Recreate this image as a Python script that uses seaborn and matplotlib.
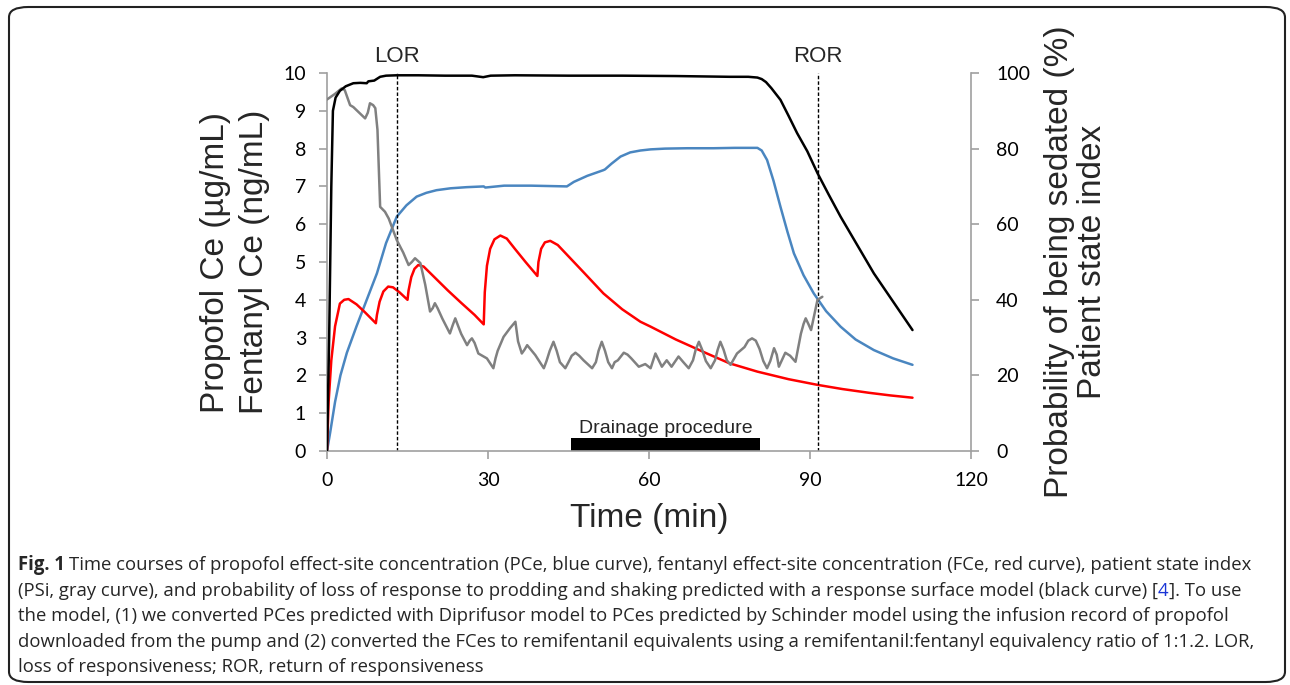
import matplotlib
matplotlib.use("Agg")
import matplotlib.pyplot as plt
import seaborn as sns
from matplotlib.patches import FancyBboxPatch

# Data (time in min)
propofol_t = [0, 0.6, 1.5, 2.5, 3.7, 5.5, 7.4, 9.3, 11.0, 13.0, 14.8, 16.7, 18.5, 20.4, 23.0, 26.0,
              29.2, 29.5, 33.0, 38.0, 44.7, 46.0, 48.5, 51.5, 51.8, 53.0, 54.7, 56.5, 58.4, 60.3,
              63.0, 67.1, 72.0, 76.0, 80.2, 81.0, 82.0, 83.2, 84.5, 85.8, 87.0, 88.8, 90.7, 93.0,
              95.7, 98.5, 101.9, 105.5, 109.1]
propofol_ce = [0, 0.5, 1.3, 2.0, 2.6, 3.3, 4.0, 4.7, 5.5, 6.2, 6.5, 6.73, 6.83, 6.9, 6.95, 6.98,
               7.0, 6.97, 7.02, 7.02, 7.0, 7.12, 7.28, 7.43, 7.45, 7.6, 7.79, 7.9, 7.95, 7.98,
               8.0, 8.01, 8.01, 8.02, 8.02, 7.95, 7.7, 7.15, 6.46, 5.8, 5.23, 4.65, 4.17, 3.7,
               3.29, 2.95, 2.67, 2.45, 2.28]

fentanyl_t = [0, 0.3, 0.8, 1.5, 2.4, 3.2, 4.0, 5.5, 7.0, 9.1, 9.3, 9.8, 10.5, 11.4, 12.3, 13.5,
              15.0, 15.2, 15.7, 16.3, 17.0, 18.0, 20.0, 22.5, 25.0, 27.5, 29.2, 29.4, 29.8, 30.4,
              31.2, 32.3, 33.5, 35.0, 37.0, 39.2, 39.4, 39.9, 40.6, 41.6, 43.0, 45.0, 48.0, 51.5,
              55.0, 58.4, 60.3, 65.0, 70.8, 75.0, 80.2, 86.0, 91.4, 96.0, 101.0, 105.0, 109.1]
fentanyl_ce = [0, 1.3, 2.4, 3.3, 3.9, 4.0, 4.02, 3.88, 3.68, 3.38, 3.6, 3.95, 4.22, 4.35, 4.33, 4.2,
               4.0, 4.25, 4.6, 4.82, 4.92, 4.88, 4.6, 4.25, 3.92, 3.6, 3.35, 4.2, 4.9, 5.35,
               5.6, 5.7, 5.62, 5.35, 5.0, 4.63, 5.0, 5.35, 5.52, 5.56, 5.45, 5.15, 4.7, 4.17,
               3.75, 3.42, 3.29, 2.95, 2.58, 2.32, 2.1, 1.9, 1.75, 1.64, 1.54, 1.47, 1.41]

psi_t = [0, 1.5, 2.7, 3.3, 4.3, 4.9, 6.0, 7.1, 7.6, 8.0, 8.6, 9.0, 9.4, 9.9, 10.8, 11.5, 13.0,
         14.2, 15.2, 15.8, 16.4, 17.4, 18.3, 19.2, 19.7, 20.1, 20.6, 21.5, 22.9, 23.4, 23.9, 24.4,
         25.0, 26.1, 26.6, 27.0, 27.5, 28.2, 29.8, 31.0, 31.4, 31.8, 32.9, 34.1, 35.1, 35.6, 36.3,
         36.8, 37.3, 38.8, 40.4, 40.9, 41.5, 42.2, 42.8, 43.4, 44.4, 45.0, 45.6, 46.3, 47.0, 47.8,
         49.4, 50.1, 50.6, 51.2, 51.8, 52.4, 53.1, 53.6, 54.2, 55.3, 56.0, 56.7, 58.1, 59.3, 60.3,
         61.2, 62.4, 63.3, 64.2, 65.5, 66.4, 67.4, 68.2, 68.7, 69.3, 69.9, 70.6, 71.5, 72.3, 72.8,
         73.3, 73.9, 74.5, 75.2, 76.4, 77.8, 78.5, 79.2, 79.9, 80.6, 81.3, 82.0, 82.6, 83.3, 83.8,
         84.2, 85.4, 86.3, 87.3, 88.3, 88.8, 89.2, 89.7, 90.2, 90.8, 91.4, 92.3]
psi_index = [93, 94.5, 95.9, 95.5, 91.5, 91.0, 89.5, 88.0, 89.5, 92.0, 91.5, 90.7, 85.0, 64.6, 63.3,
             61.5, 55.8, 52.5, 49.2, 50.0, 51.0, 49.7, 44.0, 36.9, 37.8, 39.1, 37.8, 35.0, 31.1,
             33.2, 35.1, 33.2, 31.0, 28.0, 29.2, 29.8, 28.6, 25.8, 24.5, 21.9, 24.5, 26.5, 30.2,
             32.5, 34.2, 29.0, 25.8, 26.8, 28.0, 25.4, 21.9, 23.8, 26.5, 28.9, 26.5, 23.5, 21.9,
             23.5, 25.2, 26.0, 25.2, 24.0, 21.9, 23.5, 26.5, 28.9, 26.5, 23.5, 21.9, 23.5, 24.0,
             26.0, 25.5, 24.5, 22.3, 23.0, 21.9, 25.8, 22.3, 24.0, 22.3, 25.0, 23.5, 21.9, 24.0,
             26.8, 28.9, 26.8, 23.8, 21.9, 24.0, 26.8, 28.9, 26.8, 24.0, 22.8, 25.8, 27.5, 29.2,
             29.8, 29.2, 27.0, 23.8, 21.9, 23.8, 27.2, 25.5, 22.3, 26.0, 25.2, 23.6, 31.0, 33.6,
             35.1, 33.6, 32.0, 36.0, 40.0, 40.8]

prob_t = [0, 0.4, 0.8, 1.1, 1.6, 2.4, 3.5, 4.9, 6.2, 7.4, 7.7, 8.8, 9.9, 11.0, 13.0, 17.0, 22.0,
          27.0, 29.1, 30.5, 35.0, 45.0, 55.0, 65.0, 75.0, 78.5, 80.2, 81.0, 81.8, 82.8, 84.5, 86.0,
          87.6, 89.5, 91.4, 93.5, 95.7, 98.8, 101.9, 105.5, 109.1]
prob_sedated = [0, 30, 70, 90, 93.5, 95.3, 96.5, 97.3, 97.4, 97.3, 97.8, 98.0, 99.0, 99.3, 99.4, 99.4,
                99.3, 99.3, 98.9, 99.3, 99.4, 99.3, 99.3, 99.2, 99.0, 99.0, 98.8, 98.4, 97.6, 96.0,
                92.9, 88.7, 84.1, 79.3, 73.5, 67.8, 62.0, 54.5, 47.0, 39.5, 32.0]

lor_time = 13.1
ror_time = 91.4
drainage_start, drainage_end = 45.5, 80.6

x_ticks = [0, 30, 60, 90, 120]
left_ticks = list(range(0, 11))
right_ticks = [0, 20, 40, 60, 80, 100]

caption_parts = [
    "Time courses of propofol effect-site concentration (PCe, blue curve), fentanyl effect-site concentration (FCe, red curve), patient state index",
    "(PSi, gray curve), and probability of loss of response to prodding and shaking predicted with a response surface model (black curve) [",
    "4",
    "]. To use",
    "the model, (1) we converted PCes predicted with Diprifusor model to PCes predicted by Schinder model using the infusion record of propofol",
    "downloaded from the pump and (2) converted the FCes to remifentanil equivalents using a remifentanil:fentanyl equivalency ratio of 1:1.2. LOR,",
    "loss of responsiveness; ROR, return of responsiveness",
]

sns.set_style("white")
plt.rcParams['font.family'] = ['Liberation Sans', 'DejaVu Sans']

fig = plt.figure(figsize=(12.9, 6.85), dpi=100)
ax = fig.add_axes([0.2535, 0.3416, 0.4992, 0.5518])
ax2 = ax.twinx()

spine_col = '#a0a0a0'
line_kw = dict(linewidth=1.8, sort=False)
sns.lineplot(x=propofol_t, y=propofol_ce, ax=ax, color='#4a86c0', **line_kw)
sns.lineplot(x=fentanyl_t, y=fentanyl_ce, ax=ax, color='#ff0000', **line_kw)
sns.lineplot(x=psi_t, y=psi_index, ax=ax2, color='#808080', **line_kw)
sns.lineplot(x=prob_t, y=prob_sedated, ax=ax2, color='black', **line_kw)
for line in ax.lines + ax2.lines:
    line.set_solid_joinstyle('round')

# LOR / ROR markers
for t, lab in [(lor_time, 'LOR'), (ror_time, 'ROR')]:
    ax.axvline(t, ymin=0, ymax=1, color='black', linestyle=(0, (2.5, 1.5)), linewidth=1.0)
    ax.text(t, 10.17, lab, ha='center', va='bottom', fontsize=16)

# drainage bar
ax.fill_between([drainage_start, drainage_end], 0, 0.35, color='black', linewidth=0)
ax.text((drainage_start + drainage_end) / 2, 0.38, 'Drainage procedure', ha='center',
        va='bottom', fontsize=14)

ax.set_xlim(0, 120)
ax.set_ylim(0, 10)
ax2.set_ylim(0, 100)
ax.set_xticks(x_ticks)
ax.set_yticks(left_ticks)
ax2.set_yticks(right_ticks)

for a in (ax, ax2):
    a.grid(False)
    for s in a.spines.values():
        s.set_color(spine_col)
        s.set_linewidth(1.2)
    a.spines['top'].set_visible(False)
    a.tick_params(colors=spine_col, labelcolor='black', labelsize=14, length=6, width=1.2,
                  direction='out')
ax.spines['right'].set_visible(False)
ax2.spines['left'].set_visible(False)
ax2.spines['bottom'].set_visible(False)
ax.tick_params(axis='y', left=True, pad=9)
ax.tick_params(axis='x', bottom=True, pad=9)
ax2.tick_params(axis='y', right=True, pad=12)
for lab in ax.get_xticklabels() + ax.get_yticklabels() + ax2.get_yticklabels():
    lab.set_family(['Lato', 'DejaVu Sans'])

ax.set_xlabel('Time (min)', fontsize=24, labelpad=10)
ax.set_ylabel('Propofol Ce (µg/mL)\nFentanyl Ce (ng/mL)', fontsize=24, labelpad=10,
              linespacing=1.3)
ax2.set_ylabel('Probability of being sedated (%)\nPatient state index', fontsize=24,
               labelpad=10, linespacing=1.1)

# rounded frame
frame = FancyBboxPatch((9 / 1290, 3 / 685), 1276 / 1290, 675 / 685,
                       boxstyle='round,pad=0,rounding_size=0.015', transform=fig.transFigure,
                       fill=False, edgecolor='#222222', linewidth=1.5)
fig.patches.append(frame)

# caption
cap_font = ['Open Sans', 'DejaVu Sans']
cap_size = 13.35
x0 = 18 / 1290
y_lines = [1 - 565 / 685, 1 - 591 / 685, 1 - 616 / 685, 1 - 642 / 685, 1 - 667 / 685]
t0 = fig.text(x0, y_lines[0], 'Fig. 1', fontsize=cap_size, fontweight='bold', family=cap_font,
              va='center')
fig.canvas.draw()
bb = t0.get_window_extent()
fig.text(bb.x1 / 1290 + 4 / 1290, y_lines[0], caption_parts[0], fontsize=cap_size,
         family=cap_font, va='center')
t1 = fig.text(x0, y_lines[1], caption_parts[1], fontsize=cap_size, family=cap_font, va='center')
fig.canvas.draw()
bb1 = t1.get_window_extent()
t2 = fig.text(bb1.x1 / 1290, y_lines[1], caption_parts[2], fontsize=cap_size, family=cap_font,
              va='center', color='#1a35d6')
fig.canvas.draw()
bb2 = t2.get_window_extent()
fig.text(bb2.x1 / 1290, y_lines[1], caption_parts[3], fontsize=cap_size, family=cap_font,
         va='center')
for i, line in enumerate(caption_parts[4:]):
    fig.text(x0, y_lines[2 + i], line, fontsize=cap_size, family=cap_font, va='center')

fig.savefig('out.png', dpi=100)
